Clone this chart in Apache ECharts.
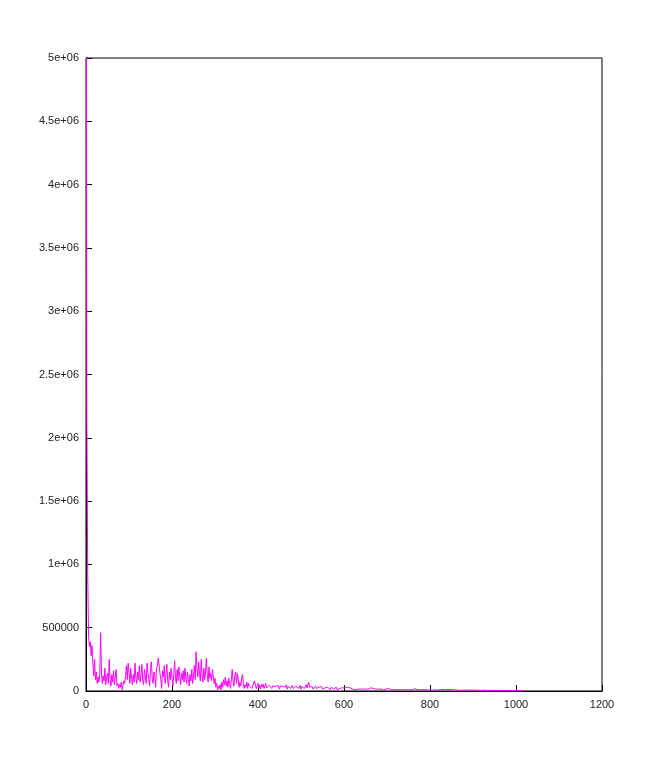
<!DOCTYPE html>
<html>
<head>
<meta charset="utf-8">
<script src="https://cdn.jsdelivr.net/npm/echarts@6/dist/echarts.min.js"></script>
<style>html,body{margin:0;padding:0;background:#fff}#c{width:666px;height:777px}</style>
</head>
<body>
<div id="c"></div>
<script>
// sample spacing along x (values below are at x = 0, 2, 4, ...)
var sampleStep = 2;
// spectrum values
var power = [
9000e3,2100e3,900e3,430e3,350e3,390e3,280e3,360e3,220e3,120e3,250e3,90e3,150e3,60e3,110e3,70e3,130e3,460e3,150e3,60e3,
120e3,80e3,180e3,50e3,110e3,140e3,60e3,250e3,90e3,40e3,130e3,70e3,160e3,50e3,110e3,170e3,40e3,60e3,20e3,50e3,
30e3,70e3,10e3,40e3,80e3,60e3,120e3,200e3,90e3,220e3,150e3,60e3,180e3,100e3,50e3,130e3,70e3,220e3,110e3,60e3,
150e3,90e3,200e3,70e3,130e3,210e3,80e3,50e3,170e3,120e3,60e3,220e3,140e3,90e3,40e3,180e3,230e3,100e3,60e3,150e3,
120e3,30e3,180e3,200e3,260e3,270e3,140e3,90e3,20e3,160e3,110e3,200e3,60e3,130e3,210e3,80e3,30e3,150e3,90e3,180e3,
100e3,40e3,130e3,240e3,110e3,60e3,170e3,80e3,190e3,120e3,50e3,140e3,90e3,160e3,70e3,180e3,110e3,60e3,150e3,90e3,
40e3,130e3,80e3,170e3,60e3,120e3,200e3,90e3,310e3,180e3,110e3,230e3,140e3,80e3,250e3,120e3,70e3,180e3,90e3,150e3,
260e3,130e3,70e3,190e3,100e3,140e3,80e3,170e3,120e3,60e3,100e3,30e3,60e3,10e3,40e3,20e3,50e3,10e3,70e3,30e3,
90e3,50e3,110e3,40e3,80e3,30e3,100e3,60e3,20e3,90e3,170e3,80e3,40e3,120e3,150e3,60e3,140e3,90e3,30e3,70e3,
40e3,100e3,130e3,60e3,20e3,50e3,30e3,70e3,20e3,60e3,40e3,30e3,50e3,20e3,45e3,30e3,80e3,50e3,20e3,40e3,
60e3,20e3,45e3,15e3,50e3,30e3,55e3,20e3,40e3,60e3,25e3,35e3,15e3,45e3,30e3,50e3,20e3,40e3,55e3,25e3,
35e3,50e3,20e3,45e3,30e3,15e3,40e3,55e3,25e3,35e3,20e3,45e3,30e3,50e3,15e3,35e3,25e3,40e3,20e3,30e3,
45e3,20e3,35e3,15e3,40e3,25e3,50e3,20e3,30e3,45e3,15e3,35e3,25e3,40e3,20e3,30e3,50e3,25e3,40e3,70e3,
30e3,45e3,20e3,35e3,15e3,30e3,25e3,40e3,20e3,35e3,15e3,30e3,25e3,20e3,35e3,15e3,30e3,20e3,25e3,35e3,
15e3,30e3,20e3,25e3,10e3,30e3,20e3,35e3,15e3,25e3,20e3,30e3,10e3,25e3,15e3,20e3,30e3,15e3,25e3,20e3,
15e3,25e3,20e3,10e3,30e3,15e3,20e3,25e3,10e3,20e3,15e3,25e3,20e3,10e3,15e3,25e3,15e3,20e3,10e3,15e3,
20e3,10e3,15e3,25e3,10e3,15e3,20e3,10e3,15e3,20e3,10e3,25e3,15e3,10e3,20e3,15e3,10e3,15e3,20e3,10e3,
15e3,10e3,20e3,15e3,10e3,15e3,10e3,20e3,10e3,15e3,10e3,15e3,20e3,10e3,15e3,10e3,12e3,18e3,10e3,15e3,
10e3,12e3,8e3,15e3,10e3,12e3,8e3,10e3,14e3,8e3,10e3,12e3,8e3,10e3,15e3,8e3,10e3,12e3,8e3,10e3,
12e3,15e3,18e3,10e3,8e3,12e3,10e3,8e3,10e3,12e3,8e3,10e3,7e3,9e3,12e3,8e3,10e3,7e3,9e3,8e3,
8e3,7e3,9e3,6e3,8e3,7e3,9e3,8e3,6e3,8e3,7e3,9e3,10e3,8e3,10e3,12e3,9e3,11e3,10e3,12e3,
10e3,12e3,11e3,9e3,12e3,10e3,11e3,9e3,10e3,8e3,9e3,7e3,8e3,6e3,8e3,7e3,6e3,8e3,7e3,6e3,
7e3,6e3,8e3,7e3,6e3,7e3,5e3,6e3,7e3,6e3,5e3,7e3,6e3,5e3,6e3,7e3,5e3,6e3,5e3,6e3,
5e3,6e3,5e3,7e3,5e3,6e3,5e3,4e3,6e3,5e3,6e3,4e3,5e3,6e3,4e3,5e3,4e3,6e3,5e3,4e3,
5e3,4e3,5e3,4e3,6e3,4e3,5e3,4e3,5e3,3e3,4e3,5e3,4e3,3e3,4e3,5e3,4e3,3e3,4e3,3e3,
4e3,3e3,4e3,3e3,4e3,3e3,2e3,3e3,2e3,3e3,2e3
];
var xTickLabels = ['0','200','400','600','800','1000','1200'];
var yTickLabels = ['0','500000','1e+06','1.5e+06','2e+06','2.5e+06','3e+06','3.5e+06','4e+06','4.5e+06','5e+06'];

var seriesData = power.map(function (v, i) { return [i * sampleStep, v]; });

var chart = echarts.init(document.getElementById('c'), null, {renderer: 'canvas'});
var font = 'Liberation Sans, Arial, sans-serif';
chart.setOption({
  animation: false,
  backgroundColor: '#ffffff',
  grid: {left: 86, top: 58, right: 64, bottom: 86, show: true, borderColor: '#000', borderWidth: 1, backgroundColor: 'transparent'},
  xAxis: {
    type: 'value', min: 0, max: 1200, interval: 200,
    axisLine: {show: true, onZero: false, lineStyle: {color: '#000', width: 1}},
    axisTick: {show: true, inside: true, length: 6, lineStyle: {color: '#000'}},
    splitLine: {show: false},
    axisLabel: {show: true, margin: 8, fontSize: 11, fontFamily: font, color: '#222',
      formatter: function (v) { var i = Math.round(v / 200); return xTickLabels[i] !== undefined ? xTickLabels[i] : ''; }}
  },
  yAxis: {
    type: 'value', min: 0, max: 5000000, interval: 500000,
    axisLine: {show: true, lineStyle: {color: '#000', width: 1}},
    axisTick: {show: true, inside: true, length: 6, lineStyle: {color: '#000'}},
    splitLine: {show: false},
    axisLabel: {show: true, margin: 7, fontSize: 11, fontFamily: font, color: '#222',
      formatter: function (v) { var i = Math.round(v / 500000); return yTickLabels[i] !== undefined ? yTickLabels[i] : ''; }}
  },
  series: [{
    type: 'line',
    data: seriesData,
    showSymbol: false,
    symbol: 'none',
    clip: true,
    sampling: null,
    lineStyle: {color: '#ff00ff', width: 1},
    itemStyle: {color: '#ff00ff'}
  }]
});
</script>
</body>
</html>
